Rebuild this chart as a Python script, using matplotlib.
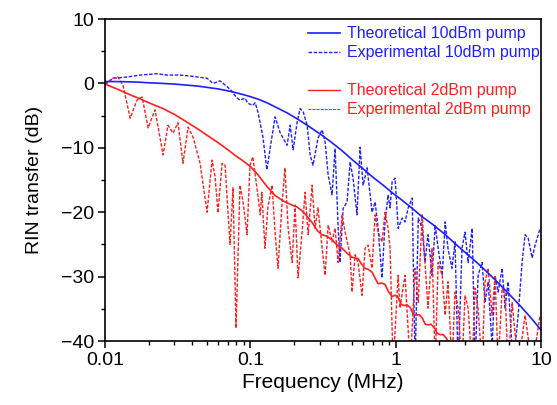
import matplotlib
matplotlib.use("Agg")
import matplotlib.pyplot as plt
from matplotlib.lines import Line2D
from matplotlib.ticker import LogLocator, FixedLocator, NullFormatter

plt.rcParams['font.family'] = ['Liberation Sans', 'DejaVu Sans']

# theoretical curves (MHz, dB)
theo10_f = [0.01, 0.013, 0.017, 0.02, 0.025, 0.03, 0.036, 0.043, 0.05, 0.06, 0.07, 0.08,
            0.09, 0.1, 0.115, 0.13, 0.15, 0.18, 0.21, 0.25, 0.3, 0.35, 0.42, 0.5, 0.6,
            0.7, 0.82, 0.95, 1.1, 1.3, 1.5, 1.8, 2.2, 2.6, 3.1, 3.7, 4.4, 5.2, 6.2, 7.3,
            8.6, 10]
theo10_db = [0.3, 0.28, 0.2, 0.1, 0.0, -0.1, -0.25, -0.4, -0.6, -0.85, -1.15, -1.45,
             -1.75, -2.05, -2.5, -3.0, -3.7, -4.6, -5.5, -6.6, -7.8, -8.9, -10.3, -11.8, -13.3,
             -14.6, -15.8, -17.0, -18.1, -19.4, -20.6, -21.9, -23.5, -25.0, -26.5, -28.0, -29.6,
             -31.2, -33.0, -34.7, -36.5, -38.3]

theo2_f = [0.01, 0.0125, 0.015, 0.0175, 0.02, 0.025, 0.03, 0.036, 0.043, 0.05, 0.06, 0.07,
           0.08, 0.09, 0.1, 0.113, 0.13, 0.148, 0.17, 0.194, 0.21, 0.227, 0.245,
           0.266, 0.29, 0.311, 0.335, 0.365, 0.395, 0.428, 0.465, 0.501, 0.525, 0.551,
           0.58, 0.615, 0.65, 0.688, 0.72, 0.757, 0.8, 0.845, 0.89, 0.944, 0.99,
           1.04, 1.09, 1.14, 1.2, 1.26, 1.32, 1.38, 1.45, 1.52, 1.6, 1.67, 1.75, 1.84,
           1.93, 2.02, 2.12, 2.22, 2.33, 2.44, 2.6]
theo2_db = [-0.1, -1.0, -1.8, -2.4, -3.0, -3.9, -4.8, -5.9, -7.0, -8.0, -9.2, -10.3,
            -11.3, -12.1, -12.9, -14.2, -16.0, -17.4, -18.3, -18.9, -19.2, -19.8, -20.6,
            -21.6, -22.9, -23.5, -23.7, -24.3, -25.1, -25.6, -26.4, -27.0, -27.1, -27.2,
            -28.0, -28.7, -28.9, -29.3, -30.2, -31.1, -31.0, -31.2, -32.3, -33.1, -32.9,
            -33.2, -34.3, -34.5, -34.4, -34.8, -35.8, -36.0, -35.9, -36.4, -37.4, -37.5,
            -37.4, -37.9, -38.8, -39.0, -39.0, -39.5, -40.4, -40.6, -41.5]

# experimental curves (MHz, dB)
exp10_f = [0.0100, 0.0114, 0.0142, 0.0174, 0.0228, 0.0267, 0.0328, 0.0403, 0.0504, 0.0554,
           0.0619, 0.0691, 0.0748, 0.0797, 0.0849, 0.0919, 0.0964, 0.104, 0.108, 0.113,
           0.122, 0.130, 0.137, 0.148, 0.160, 0.168, 0.179, 0.188, 0.197, 0.210,
           0.220, 0.231, 0.246, 0.258, 0.270, 0.292, 0.312, 0.327, 0.343, 0.365,
           0.383, 0.402, 0.414, 0.435, 0.463, 0.486, 0.509, 0.542, 0.569, 0.597,
           0.636, 0.688, 0.722, 0.757, 0.806, 0.845, 0.887, 0.915, 0.945, 0.991,
           1.04, 1.11, 1.16, 1.22, 1.30, 1.36, 1.43, 1.52, 1.59, 1.67,
           1.78, 1.87, 1.96, 2.09, 2.19, 2.29, 2.44, 2.56, 2.69, 2.86,
           3.00, 3.15, 3.36, 3.52, 3.69, 3.93, 4.12, 4.33, 4.61, 4.83,
           5.07, 5.40, 5.66, 5.94, 6.43, 6.96, 7.41, 7.77, 8.15, 8.69,
           9.11, 9.86, 10.0]
exp10_db = [-0.1, 0.8, 1.0, 1.3, 1.5, 1.3, 1.3, 1.1, 0.8, 0.0,
            0.4, -0.5, -1.2, -2.1, -2.6, -2.3, -3.1, -3.4, -3.0, -4.5,
            -8.3, -13.4, -10.0, -5.2, -7.6, -8.5, -9.6, -6.5, -10.3, -6.0,
            -3.9, -4.4, -6.5, -11.1, -12.7, -8.5, -7.2, -9.1, -14.2, -17.3,
            -10.1, -22.5, -27.8, -19.4, -18.4, -12.2, -14.7, -20.4, -9.9, -15.8,
            -13.1, -20.0, -18.4, -22.5, -30.2, -21.5, -17.3, -19.3, -15.3, -14.7,
            -22.5, -20.9, -21.5, -19.3, -17.8, -44.0, -20.9, -22.5, -27.8, -23.5,
            -29.8, -22.0, -25.6, -29.8, -21.5, -25.6, -28.7, -24.6, -44.0, -25.6,
            -23.1, -27.8, -22.5, -44.0, -29.8, -27.8, -34.0, -30.8, -41.0, -29.8,
            -32.4, -28.7, -34.9, -30.8, -44.0, -36.0, -27.8, -23.5, -24.0, -27.1,
            -25.1, -22.5, -22.5]

exp2_f = [0.0100, 0.0112, 0.0123, 0.0133, 0.0149, 0.0166, 0.0180, 0.0198, 0.0221, 0.0251,
          0.0271, 0.0294, 0.0318, 0.0344, 0.0373, 0.0403, 0.0451, 0.0504, 0.0545, 0.0572,
          0.0599, 0.0639, 0.0670, 0.0725, 0.0760, 0.0797, 0.0849, 0.0891, 0.0949, 0.0995,
          0.104, 0.111, 0.117, 0.120, 0.126, 0.132, 0.141, 0.148, 0.155, 0.165,
          0.173, 0.182, 0.194, 0.203, 0.213, 0.227, 0.238, 0.250, 0.266, 0.279,
          0.292, 0.312, 0.327, 0.343, 0.365, 0.383, 0.402, 0.428, 0.449, 0.486,
          0.501, 0.526, 0.551, 0.587, 0.616, 0.646, 0.688, 0.722, 0.757, 0.806,
          0.845, 0.887, 0.915, 0.960, 1.04, 1.07, 1.16, 1.26, 1.36, 1.43,
          1.52, 1.59, 1.67, 1.78, 1.87, 1.96, 2.09, 2.19, 2.29, 2.44,
          2.56, 2.69, 2.86, 3.00, 3.15, 3.36, 3.52, 3.69, 3.93, 4.12,
          4.33, 4.61, 4.83, 5.07, 5.40, 5.66, 5.94, 6.33, 6.96, 7.77,
          8.69, 9.86]
exp2_db = [-0.3, 0.8, 1.0, -0.3, -5.4, -2.6, -2.1, -6.9, -4.1, -11.1,
           -6.5, -7.7, -6.1, -12.4, -6.8, -8.3, -12.4, -20.0, -11.9, -14.5,
           -20.1, -12.4, -12.7, -25.0, -16.2, -38.0, -15.8, -18.4, -23.5, -12.7,
           -11.4, -16.2, -20.4, -16.9, -25.6, -19.3, -15.8, -23.1, -28.7, -18.9,
           -13.1, -22.5, -27.8, -18.9, -30.2, -23.1, -16.9, -23.5, -15.8, -22.5,
           -19.3, -25.6, -29.8, -22.0, -24.6, -22.5, -27.8, -20.4, -23.1, -26.6,
           -32.4, -26.6, -27.8, -32.9, -25.6, -25.1, -28.7, -20.4, -23.1, -24.6,
           -20.0, -22.5, -25.6, -44.0, -29.8, -34.9, -29.8, -44.0, -28.7, -34.0,
           -20.4, -27.8, -34.9, -25.6, -44.0, -27.8, -29.8, -36.0, -30.8, -44.0,
           -32.4, -34.9, -44.0, -32.9, -34.9, -44.0, -31.8, -34.9, -44.0, -30.8,
           -28.7, -36.0, -29.8, -44.0, -31.8, -32.4, -44.0, -34.0, -44.0, -36.0,
           -44.0, -36.0]

blue = '#1f1fff'
red = '#ff1f1f'

fig = plt.figure(figsize=(5.57, 4.05), dpi=100)
ax = fig.add_axes([0.1885, 0.158, 0.7828, 0.795])

dash = (0, (2.5, 1.2))
ax.plot(exp10_f, exp10_db, color=blue, lw=1.0, ls=dash)
ax.plot(exp2_f, exp2_db, color=red, lw=1.0, ls=dash)
ax.plot(theo10_f, theo10_db, color=blue, lw=1.2)
ax.plot(theo2_f, theo2_db, color=red, lw=1.2)

ax.set_xscale('log')
ax.set_xlim(0.01, 10)
ax.set_ylim(-40, 10)
ax.set_xticks([0.01, 0.1, 1, 10])
ax.set_xticklabels(['0.01', '0.1', '1', '10'])
ax.xaxis.set_minor_locator(LogLocator(base=10, subs=range(2, 10)))
ax.xaxis.set_minor_formatter(NullFormatter())
ax.set_yticks([-40, -30, -20, -10, 0, 10])
ax.yaxis.set_minor_locator(FixedLocator([-35, -25, -15, -5, 5]))
ax.tick_params(which='major', direction='out', length=5, width=1.1, labelsize=14, pad=3)
ax.tick_params(which='minor', direction='out', length=3, width=1.0)
for s in ax.spines.values():
    s.set_linewidth(1.2)

ax.set_xlabel('Frequency (MHz)', fontsize=15, labelpad=3)
ax.set_ylabel('RIN transfer (dB)', fontsize=14, labelpad=13)

h1 = [Line2D([], [], color=blue, lw=1.2),
      Line2D([], [], color=blue, lw=1.0, ls=dash)]
h2 = [Line2D([], [], color=red, lw=1.0),
      Line2D([], [], color=red, lw=0.8, ls=dash)]
leg1 = ax.legend(h1, ['Theoretical 10dBm pump', 'Experimental 10dBm pump'],
                 loc='upper left', bbox_to_anchor=(0.466, 0.977), frameon=False,
                 fontsize=11.5, labelcolor=[blue, blue], handlelength=2.0,
                 handletextpad=0.45, labelspacing=0.25, borderpad=0, borderaxespad=0)
ax.add_artist(leg1)
ax.legend(h2, ['Theoretical 2dBm pump', 'Experimental 2dBm pump'],
          loc='upper left', bbox_to_anchor=(0.466, 0.800), frameon=False,
          fontsize=11.5, labelcolor=[red, red], handlelength=2.0,
          handletextpad=0.45, labelspacing=0.25, borderpad=0, borderaxespad=0)

fig.savefig('out.png', dpi=100)
